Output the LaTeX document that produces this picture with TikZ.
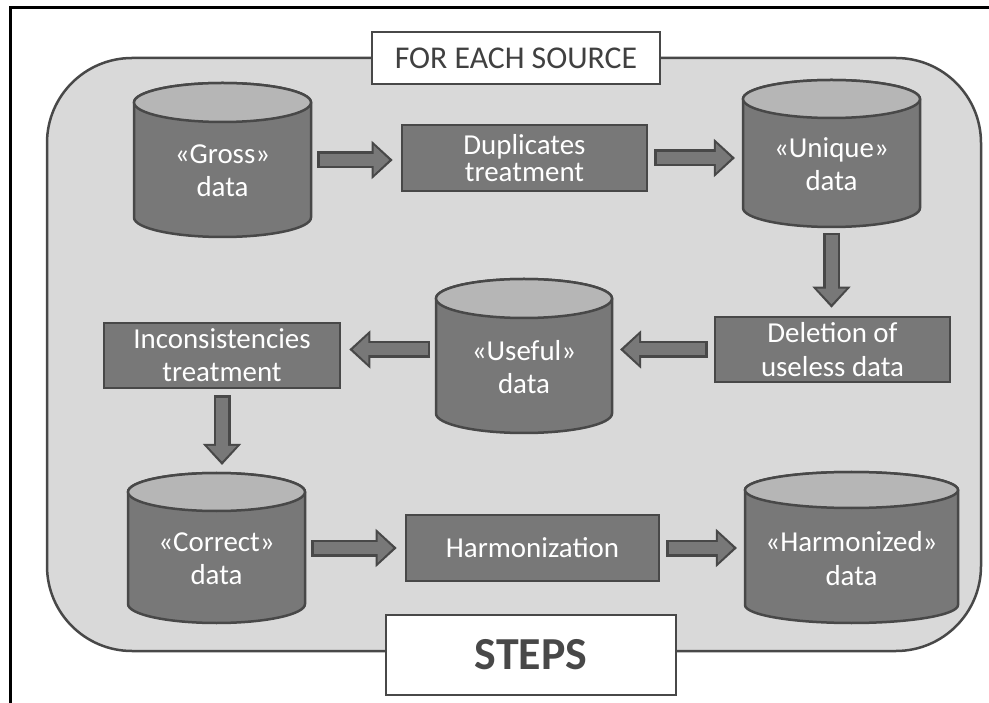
\documentclass[tikz,border=0pt]{standalone}
\usepackage{fontspec}
\setmainfont{Carlito}
\usetikzlibrary{arrows.meta,positioning,calc}

\definecolor{bggray}{RGB}{217,217,217}
\definecolor{bodygray}{RGB}{120,120,120}
\definecolor{topgray}{RGB}{182,182,182}
\definecolor{edgegray}{RGB}{72,72,72}
\definecolor{titlegray}{RGB}{64,64,64}

% one pixel of the layout
\newdimen\pxu \pxu=0.709pt
\newcommand\boxfont{\fontsize{20.5}{23.5}\selectfont}

% block arrow from one node to the next
\newcommand\fatarrow[2]{%
  \draw[fatout] #1 -- #2;
  \draw[fatin] #1 -- #2;}

% data store: name, position, width, height, end radius, text
\newcommand\datastore[6]{%
  \node[dbbox, minimum width=#3\pxu, minimum height=#4\pxu] (#1) at (#2) {};
  \draw[dbline, fill=bodygray] let \p1=(#1.north west), \p2=(#1.south east),
      \n1={(\x2-\x1)/2} in
    (\x1,\y1-#5\pxu) -- (\x1,\y2+#5\pxu)
    arc[start angle=180, end angle=360, x radius=\n1, y radius=#5\pxu]
    -- (\x2,\y1-#5\pxu)
    arc[start angle=0, end angle=180, x radius=\n1, y radius=#5\pxu] -- cycle;
  \draw[dbline, fill=topgray] let \p1=(#1.north west), \p2=(#1.south east),
      \n1={(\x2-\x1)/2} in
    (\x1+\n1,\y1-#5\pxu) ellipse[x radius=\n1, y radius=#5\pxu];
  \node[dbtext] (#1-text) at ([yshift=-11\pxu]#1.center) {#6};}

\tikzset{
  dbbox/.style={rectangle, inner sep=0pt, outer sep=0pt},
  dbline/.style={draw=edgegray, line width=2.5\pxu},
  dbtext/.style={text=white, font=\boxfont, align=center},
  stepbox/.style={rectangle, draw=edgegray, line width=2.5\pxu, fill=bodygray,
    text=white, font=\boxfont, align=center, inner sep=0pt},
  tagbox/.style={rectangle, draw=edgegray, line width=2.5\pxu, fill=white,
    inner sep=0pt},
  fatout/.style={draw=edgegray, line width=17\pxu,
    -{Triangle[length=14.9pt,width=26.2pt]}, shorten <=6\pxu, shorten >=8\pxu},
  fatin/.style={draw=bodygray, line width=12\pxu,
    -{Triangle[length=11pt,width=19.9pt]}, shorten <=8.5\pxu, shorten >=11.5\pxu}
}

\begin{document}
\begin{tikzpicture}[x=1\pxu, y=-1\pxu]
  \useasboundingbox (0,0) rectangle (989,703);
  \draw[black, line width=3\pxu] (989,8) -- (10,8) -- (10,703);

  % background panel
  \draw[edgegray, fill=bggray, line width=2.5\pxu, rounded corners=85\pxu]
    (47,58) rectangle (981,651);
  \node[tagbox, minimum width=288\pxu, minimum height=52\pxu, text=titlegray,
        font=\fontsize{22.5}{26}\selectfont] (title) at (516,58) {FOR EACH SOURCE};
  \node[tagbox, minimum width=290\pxu, minimum height=80\pxu, text=edgegray,
        font=\fontsize{32.5}{38}\selectfont\bfseries] (steps) at (531,655) {STEPS};

  % data stores
  \datastore{gross}{222.5,160}{177}{154}{19.5}{«Gross»\\data}
  \datastore{unique}{831.5,153.5}{177}{147}{19}{«Unique»\\data}
  \datastore{useful}{524,356}{176}{154}{19.5}{«Useful»\\data}
  \datastore{correct}{216.5,548}{177}{150}{19}{«Correct»\\data}
  \datastore{harmonized}{851.5,547.5}{213}{151}{18}{«Harmonized»\\data}

  % treatments
  \node[stepbox, minimum width=245\pxu, minimum height=66\pxu,
        font=\fontsize{20.5}{19.5}\selectfont] (dup) at (524.5,158) {Duplicates\\treatment};
  \node[stepbox, minimum width=235\pxu, minimum height=65\pxu] (del) at (832.5,349.5) {Deletion of\\useless data};
  \node[stepbox, minimum width=236\pxu, minimum height=65\pxu] (incons) at (222,355.5) {Inconsistencies\\treatment};
  \node[stepbox, minimum width=253\pxu, minimum height=66\pxu] (harm) at (532.5,548) {Harmonization};

  % flow
  \fatarrow{(gross.east)}{(dup.west |- gross.east)}
  \fatarrow{(dup.east)}{(unique.west |- dup.east)}
  \fatarrow{(unique.south)}{(unique.south |- del.north)}
  \fatarrow{(del.west)}{(useful.east |- del.west)}
  \fatarrow{(useful.west |- del.west)}{(incons.east |- del.west)}
  \fatarrow{(incons.south)}{(incons.south |- correct.north)}
  \fatarrow{(correct.east)}{(harm.west)}
  \fatarrow{(harm.east)}{(harmonized.west |- harm.east)}
\end{tikzpicture}
\end{document}
